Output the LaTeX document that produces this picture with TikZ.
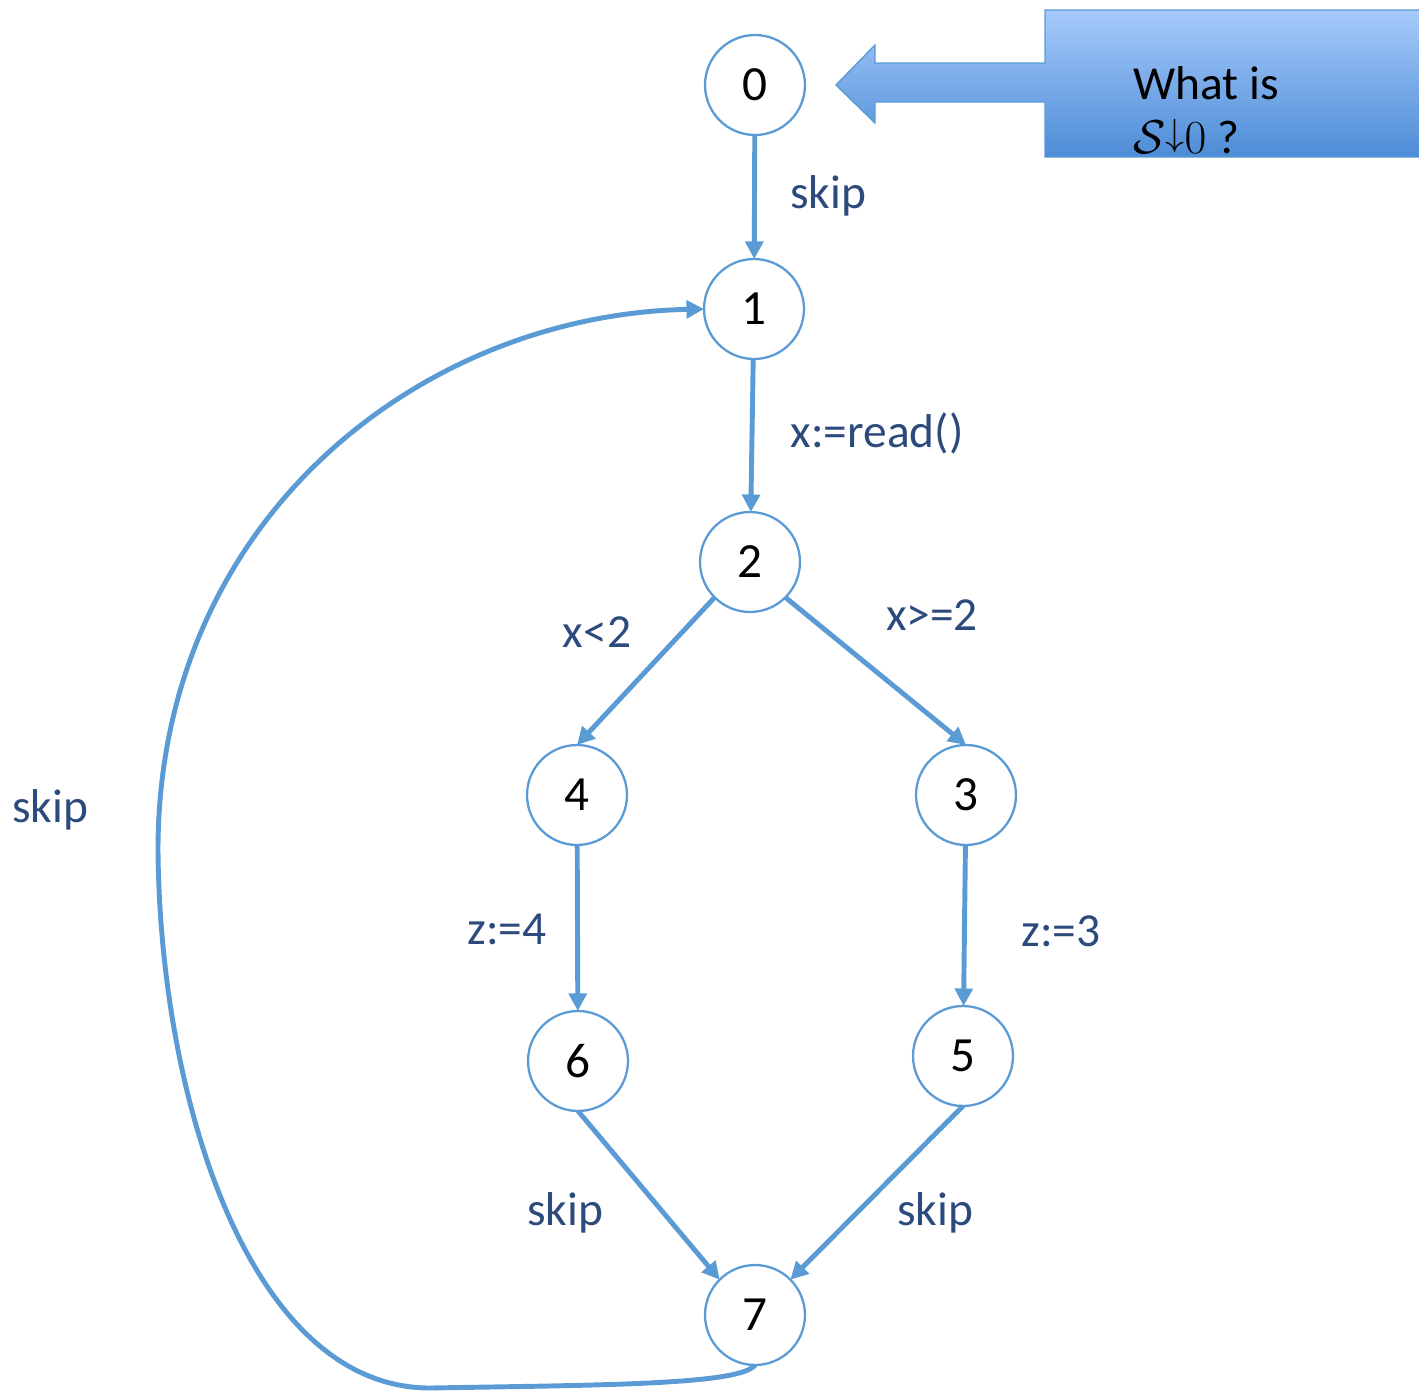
\documentclass[tikz,border=0pt]{standalone}
\usepackage{fix-cm}
\usepackage{fontspec}
\setmainfont{Carlito}
\usepackage{tikz}
\usetikzlibrary{arrows.meta,calc}
\usepackage{xcolor}
\usepackage{tkz-graph}

\definecolor{flowblue}{HTML}{5B9BD5}
\definecolor{labelblue}{HTML}{2C4B7C}
\definecolor{calltop}{HTML}{A6CAFB}
\definecolor{callbot}{HTML}{4D8CD6}

\begin{document}
\begin{tikzpicture}[x=0.02cm,y=-0.02cm,
  lbl/.style={text=labelblue,font=\fontsize{27}{30}\selectfont,inner sep=0pt}]
 \useasboundingbox (0,0) rectangle (1419,1393);
  \GraphInit[vstyle=Normal]
  \SetGraphUnit{3}
  \tikzset{VertexStyle/.style={circle,draw=flowblue,line width=1.3pt,fill=white,
           minimum size=2cm,inner sep=0pt,text=black,font=\fontsize{28}{30}\selectfont}}
  \tikzset{EdgeStyle/.style={draw=flowblue,line width=2.8pt,
           -{Triangle[length=10pt,width=10pt]}}}
  %% states of the loop
  \Vertex[x=755,y=85]{0}
  \Vertex[x=754,y=309]{1}
  \Vertex[x=750,y=562]{2}
  \Vertex[x=577,y=795]{4}
  \Vertex[x=966,y=795]{3}
  \Vertex[x=578,y=1061]{6}
  \Vertex[x=963,y=1056]{5}
  \Vertex[x=755,y=1315]{7}
  %% transitions
  \Edge(0)(1)
  \Edge(1)(2)
  \draw[EdgeStyle] (2.south west) -- (4.north);
  \draw[EdgeStyle] (2.south east) -- (3.north);
  \Edge(4)(6)
  \Edge(3)(5)
  \draw[EdgeStyle] (6.south) -- (7.north west);
  \draw[EdgeStyle] (5.south) -- (7.north east);
  \draw[EdgeStyle] (7.south) .. controls (740,1385) and (600,1385) .. (430,1388)
     .. controls (250,1388) and (160,1100) .. (158,850)
     .. controls (158,520) and (420,315) .. (1.west);
  %% labels
  \node[lbl] (skip01) at (828,196) {skip};
  \node[lbl] (read12) at (877,433) {x:=read()};
  \node[lbl] (lt24) at (597,632) {x<2};
  \node[lbl] (ge23) at (932,615) {x>=2};
  \node[lbl] (z46) at (507,929) {z:=4};
  \node[lbl] (z35) at (1061,931) {z:=3};
  \node[lbl] (skip67) at (565,1213) {skip};
  \node[lbl] (skip57) at (935,1213) {skip};
  \node[lbl] (skip71) at (50,810) {skip};
  %% callout
  \shade[top color=calltop,bottom color=callbot,draw=flowblue,line width=0.8pt]
     (1419,10) -- (1045,10) -- (1045,63) -- (875,63) -- (875,45) -- (836,85)
     -- (875,123) -- (875,102) -- (1045,102) -- (1045,157) -- (1419,157);
  \node[anchor=base west,inner sep=0pt,text=black,
        font=\fontsize{27}{31}\selectfont] (whatis) at (1133,99) {What is};
  \node[anchor=base west,inner sep=0pt,text=black,
        font=\fontsize{27}{31}\selectfont] (slice) at (1133,153)
     {$\mathcal{S}$\raisebox{0.16em}{\scalebox{0.8}{$\downarrow$}}$0$ ?};
\end{tikzpicture}
\end{document}
